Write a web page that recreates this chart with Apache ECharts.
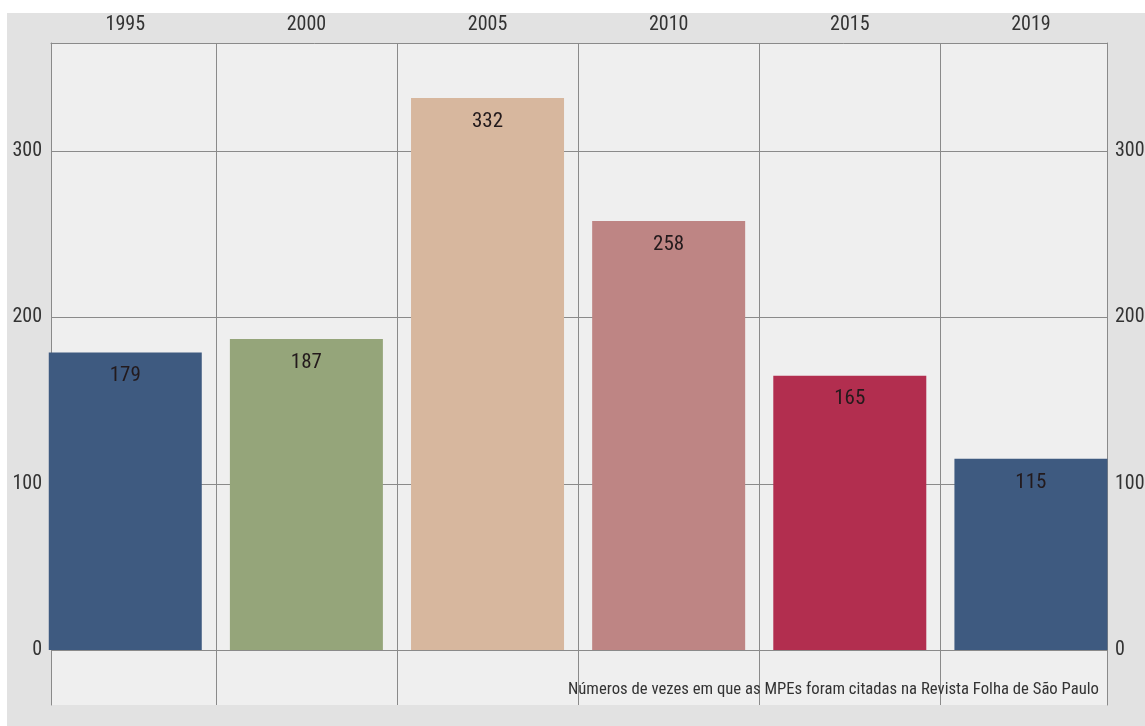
<!DOCTYPE html>
<html>
<head>
<meta charset="utf-8">
<script src="https://cdn.jsdelivr.net/npm/echarts@6/dist/echarts.min.js"></script>
<style>
html,body{margin:0;padding:0;background:#fff;}
#c{width:1145px;height:726px;}
</style>
</head>
<body>
<div id="c"></div>
<script>
var categories = ['1995', '2000', '2005', '2010', '2015', '2019'];
var values = [179, 187, 332, 258, 165, 115];
var barColors = ['#3e5a80', '#95a57a', '#d7b79e', '#be8584', '#b22e4f', '#3e5a80'];
var yTicks = [0, 100, 200, 300];
var caption = 'Números de vezes em que as MPEs foram citadas na Revista Folha de São Paulo';

var FONT = "'Roboto Condensed', 'Liberation Sans Narrow', 'Arial Narrow', Roboto, sans-serif";
var catIdx = categories.map(function (c, i) { return i; });
var bounds = catIdx.slice(0, -1).map(function (i) { return i + 0.5; });
var LINE = '#8a8a8a';

var chart = echarts.init(document.getElementById('c'), null, {renderer: 'canvas'});
var yAxisBase = function (pos, margin) {
  return {
    type: 'value', position: pos, min: -33, max: 365,
    axisLine: {show: true, onZero: false, lineStyle: {color: LINE, width: 1}},
    axisTick: {show: false, customValues: yTicks},
    axisLabel: {show: true, customValues: yTicks, margin: margin, color: '#333', fontFamily: FONT, fontSize: 20},
    splitLine: {show: pos === 'left', lineStyle: {color: LINE, width: 1}}
  };
};
chart.setOption({
  backgroundColor: '#e2e2e2',
  animation: false,
  textStyle: {fontFamily: FONT},
  grid: {left: 51, right: 38, top: 43, bottom: 21, outerBoundsMode: 'none', containLabel: false,
    show: true, backgroundColor: '#efefef', borderWidth: 0},
  xAxis: [{
    type: 'value', position: 'top', min: -0.41, max: 5.42,
    axisLine: {show: true, onZero: false, lineStyle: {color: LINE, width: 1}},
    axisTick: {show: false, customValues: catIdx},
    axisLabel: {show: true, customValues: catIdx, margin: 8, color: '#333', fontFamily: FONT, fontSize: 20,
      formatter: function (v) { return categories[Math.round(v)]; }},
    splitLine: {show: false}
  }, {
    type: 'value', position: 'top', min: -0.41, max: 5.42,
    axisLine: {show: false, onZero: false},
    axisTick: {show: false, customValues: bounds},
    axisLabel: {show: false, customValues: bounds},
    splitLine: {show: true, lineStyle: {color: LINE, width: 1}}
  }],
  yAxis: [yAxisBase('left', 9), yAxisBase('right', 8)],
  series: [{
    type: 'bar',
    clip: true,
    barWidth: 153,
    data: values.map(function (v, i) {
      return {value: [i, v], itemStyle: {color: barColors[i]}};
    }),
    label: {show: true, position: 'insideTop', distance: 13, color: '#231a1c', fontFamily: FONT, fontSize: 21,
      formatter: function (p) { return p.value[1]; }}
  }],
  graphic: [
    {type: 'rect', left: 0, top: 0, shape: {width: 1145, height: 13}, style: {fill: '#ffffff'}, z: 100},
    {type: 'rect', left: 0, top: 0, shape: {width: 7, height: 726}, style: {fill: '#ffffff'}, z: 100},
    {type: 'text', right: 46, top: 681, z: 100,
      style: {text: caption, fill: '#333', font: '16.7px ' + FONT}}
  ]
});
</script>
</body>
</html>
